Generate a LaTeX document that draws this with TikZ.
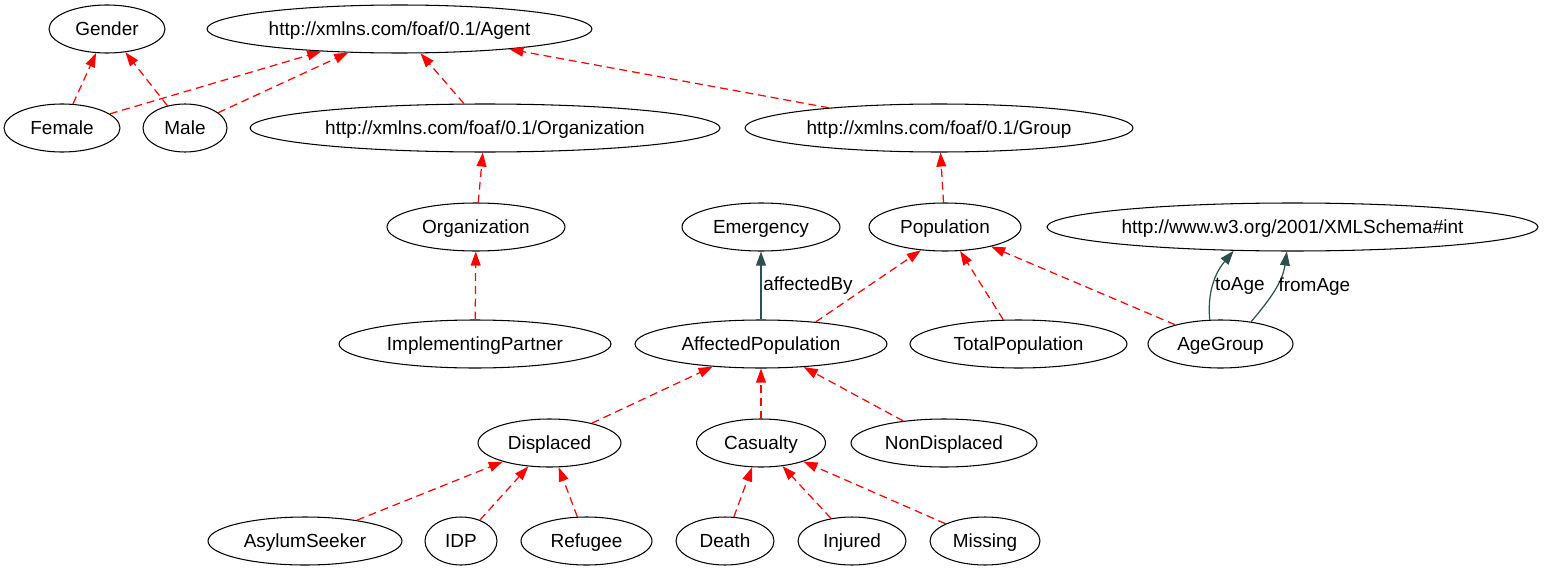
\documentclass[tikz,border=0pt]{standalone}
\usepackage{fontspec}
\setmainfont{Liberation Sans}
\usetikzlibrary{shapes.geometric, arrows.meta}

\definecolor{isared}{HTML}{FF0000}
\definecolor{propgray}{HTML}{2F4F4F}

\begin{document}
\begin{tikzpicture}[x=0.02cm, y=-0.02cm]
\tikzstyle{box} = [ellipse, draw, line width=0.6pt, text centered, minimum height=0.96cm, inner sep=0pt, text height=7.4pt, text depth=0pt, font=\fontsize{10.8}{13}\selectfont]
\tikzstyle{isa} = [isared, line width=0.7pt, dash pattern=on 4.5pt off 2.8pt, -{Triangle[length=8pt, width=5.6pt]}]
\tikzstyle{prop} = [propgray, line width=0.7pt, -{Triangle[length=8pt, width=5.6pt]}]
\tikzstyle{lbl} = [text=black, anchor=west, inner sep=1pt, font=\fontsize{10.8}{13}\selectfont]

\useasboundingbox (0,0) rectangle (1544,571);

% top rows
\node (gender) [box, minimum width=2.32cm] at (107,29) {Gender};
\node (agent) [box, minimum width=7.7cm] at (399.5,29) {http://xmlns.com/foaf/0.1/Agent};
\node (female) [box, minimum width=2.32cm] at (62,128) {Female};
\node (male) [box, minimum width=1.68cm] at (185,128) {Male};
\node (foaforg) [box, minimum width=9.4cm] at (485,128) {http://xmlns.com/foaf/0.1/Organization};
\node (foafgroup) [box, minimum width=7.76cm] at (939,128) {http://xmlns.com/foaf/0.1/Group};

\node (org) [box, minimum width=3.56cm] at (476,227) {Organization};
\node (emerg) [box, minimum width=3.16cm] at (761,227) {Emergency};
\node (pop) [box, minimum width=3.04cm] at (945,227) {Population};
\node (xsdint) [box, minimum width=9.82cm] at (1292.5,227) {http://www.w3.org/2001/XMLSchema\#int};

\node (partner) [box, minimum width=5.44cm] at (475,344) {ImplementingPartner};
\node (affpop) [box, minimum width=5.04cm] at (761,344) {AffectedPopulation};
\node (totpop) [box, minimum width=4.34cm] at (1018.5,344) {TotalPopulation};
\node (agegroup) [box, minimum width=2.9cm] at (1220.5,344) {AgeGroup};

% lower rows
\node (displ) [box, minimum width=2.86cm] at (549.5,443) {Displaced};
\node (casual) [box, minimum width=2.58cm] at (761,443) {Casualty};
\node (nondispl) [box, minimum width=3.72cm] at (944,443) {NonDisplaced};

\node (asylum) [box, minimum width=3.88cm] at (305,541) {AsylumSeeker};
\node (idp) [box, minimum width=1.44cm] at (461,541) {IDP};
\node (refugee) [box, minimum width=2.62cm] at (586.5,541) {Refugee};
\node (death) [box, minimum width=1.96cm] at (725,541) {Death};
\node (injured) [box, minimum width=2.16cm] at (852,541) {Injured};
\node (missing) [box, minimum width=2.2cm] at (985,541) {Missing};

\draw [isa] (female) -- (gender);
\draw [isa] (male) -- (gender);
\draw [isa] (female) -- (agent.196);
\draw [isa] (male) -- (agent);
\draw [isa] (foaforg) -- (agent);
\draw [isa] (foafgroup) -- (agent);
\draw [isa] (org) -- (foaforg);
\draw [isa] (partner) -- (org);
\draw [isa] (pop) -- (foafgroup);
\draw [isa] (affpop.22) -- (pop.224);
\draw [isa] (totpop) -- (pop);
\draw [isa] (agegroup) -- (pop);
\draw [isa] (displ) -- (affpop);
\draw [isa] (casual) -- (affpop);
\draw [isa] (nondispl) -- (affpop);
\draw [isa] (asylum) -- (displ);
\draw [isa] (idp) -- (displ);
\draw [isa] (refugee) -- (displ);
\draw [isa] (death) -- (casual);
\draw [isa] (injured) -- (casual);
\draw [isa] (missing) -- (casual);

\draw [prop] (affpop) -- node [lbl] {affectedBy} (emerg);
\draw [prop] (agegroup.114) to [out=95, in=230] node [lbl, pos=0.45] {toAge} (xsdint.202);
\draw [prop] (agegroup.36) to [out=50, in=262] node [lbl, pos=0.54] {fromAge} (xsdint.257);
\end{tikzpicture}
\end{document}
